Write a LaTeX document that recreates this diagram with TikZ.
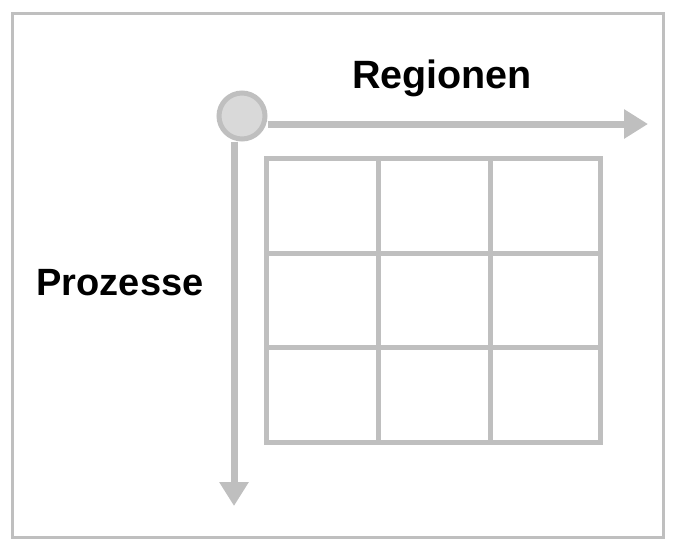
\documentclass[tikz,border=0pt]{standalone}
\usepackage{fontspec}
\setmainfont{Liberation Sans}
\usetikzlibrary{arrows.meta}
\definecolor{lg}{HTML}{BFBFBF}
\definecolor{cf}{HTML}{D9D9D9}
\tikzset{
  frame/.style={draw=lg, line width=3pt},
  gridline/.style={draw=lg, line width=5pt},
  axis/.style={draw=lg, line width=7pt, -{Triangle[length=24pt, width=28pt]}},
  lbl/.style={font=\bfseries\fontsize{38}{40}\selectfont, text=black, inner sep=0pt, anchor=base},
}
\begin{document}
\begin{tikzpicture}[x=1pt, y=-1pt]
\useasboundingbox (0,0) rectangle (677,555);
\draw[frame] (12,13) rectangle (663,537);
% grid
\draw[gridline] (266,158) rectangle (600,442);
\draw[gridline] (378,158) -- (378,442);
\draw[gridline] (490,158) -- (490,442);
\draw[gridline] (266,253) -- (600,253);
\draw[gridline] (266,347) -- (600,347);
% axes
\node[circle, minimum size=46pt, draw=lg, fill=cf, line width=5pt, inner sep=0pt] (o) at (242,116) {};
\coordinate (xend) at (648,124);
\coordinate (yend) at (234,506);
\draw[axis] (o.east |- xend) -- (xend);
\draw[axis] (yend |- o.south) -- (yend);
\node[lbl, font=\bfseries\fontsize{39.5}{41}\selectfont] (reg) at (442,88) {Regionen};
\node[lbl] (proz) at (120,295) {Prozesse};
\end{tikzpicture}
\end{document}
